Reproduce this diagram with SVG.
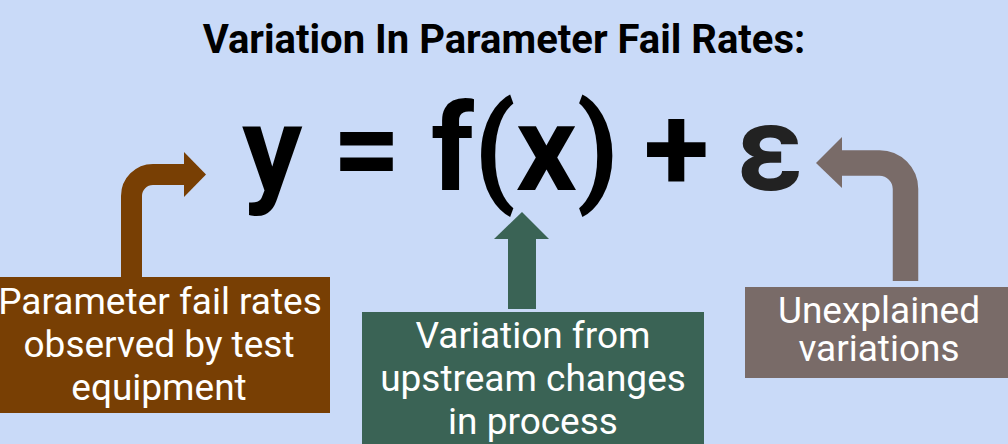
<svg xmlns="http://www.w3.org/2000/svg" width="1008" height="444" viewBox="0 0 1008 444">
  <style>
    .title { font-family: Roboto, "Liberation Sans", sans-serif; font-weight: bold; font-size: 40px; fill: #000; }
    .eq { font-family: Roboto, "Liberation Sans", sans-serif; font-weight: bold; font-size: 120px; fill: #000; }
    .lbl { font-family: Roboto, "Liberation Sans", sans-serif; font-size: 37px; fill: #ffffff; text-anchor: middle; }
    .brown { fill: #783f04; }
    .green { fill: #3a6355; }
    .gray { fill: #796b68; }
  </style>
  <rect width="1008" height="444" fill="#c9daf8"/>
  <g id="title">
    <text class="title" x="504" y="53" text-anchor="middle">Variation In Parameter Fail Rates:</text>
  </g>
  <g id="equation">
    <text class="eq" x="242" y="190" xml:space="preserve">y = f(x) <tspan dx="-5">+</tspan> <tspan dx="-3" fill="#222222">ε</tspan></text>
  </g>
  <g id="connectors">
    <path d="M131.5,277 V196 A21.5,21.5 0 0 1 153,174.5 H186" fill="none" stroke="#783f04" stroke-width="21"/>
    <polygon class="brown" points="184,152 206,174.5 184,197"/>
    <rect class="green" x="508" y="238" width="28" height="71"/>
    <polygon class="green" points="494,239 522,212 549,239"/>
    <path d="M905.5,281 V189 A26,26 0 0 0 879.5,163 H840" fill="none" stroke="#796b68" stroke-width="25.5"/>
    <polygon class="gray" points="842,137 816,163 842,188"/>
  </g>
  <g id="node-observed">
    <rect class="brown" x="-2" y="277" width="332" height="136"/>
    <text class="lbl" x="160" y="314">Parameter fail rates</text>
    <text class="lbl" x="159" y="357">observed by test</text>
    <text class="lbl" x="159" y="400">equipment</text>
  </g>
  <g id="node-upstream">
    <rect class="green" x="362" y="312" width="342" height="140"/>
    <text class="lbl" x="533" y="348">Variation from</text>
    <text class="lbl" x="533" y="391">upstream changes</text>
    <text class="lbl" x="533" y="434">in process</text>
  </g>
  <g id="node-unexplained">
    <rect class="gray" x="745" y="287" width="270" height="91"/>
    <text class="lbl" x="879" y="323">Unexplained</text>
    <text class="lbl" x="879" y="361">variations</text>
  </g>
</svg>
